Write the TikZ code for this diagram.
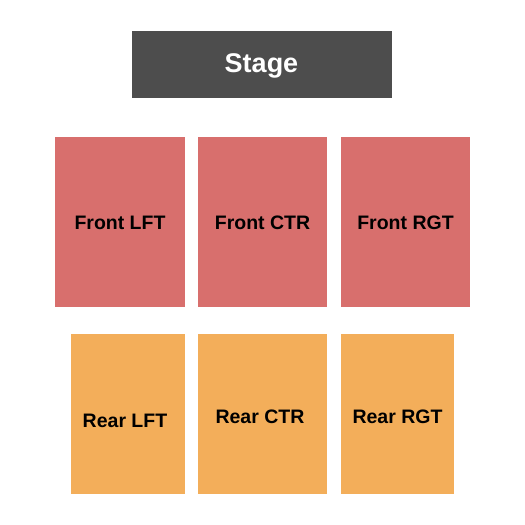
\documentclass[tikz,border=0pt]{standalone}
\usepackage{fontspec}
\setmainfont{Liberation Sans}
\definecolor{stagegray}{RGB}{77,77,77}
\definecolor{frontred}{RGB}{216,111,109}
\definecolor{rearorange}{RGB}{243,174,90}
\begin{document}
\begin{tikzpicture}[x=1pt,y=-1pt,
  sect/.style={font=\fontsize{19.5}{22}\selectfont\bfseries, text=black, inner sep=0pt}]
\useasboundingbox[fill=white] (0,0) rectangle (525,525);
% stage
\fill[stagegray] (132,31) rectangle (392,98);
\node[font=\fontsize{27}{30}\selectfont\bfseries, text=white, inner sep=0pt] (stage) at (261.5,66) {Stage};
% front
\fill[frontred] (55,137) rectangle (185,307);
\fill[frontred] (198,137) rectangle (327,307);
\fill[frontred] (341,137) rectangle (470,307);
\node[sect] (flft) at (120,223) {Front LFT};
\node[sect] (fctr) at (262.5,223) {Front CTR};
\node[sect] (frgt) at (405.5,223) {Front RGT};
% rear
\fill[rearorange] (71,334) rectangle (185,494);
\fill[rearorange] (198,334) rectangle (327,494);
\fill[rearorange] (341,334) rectangle (454,494);
\node[sect] (rlft) at (125,420.5) {Rear LFT};
\node[sect] (rctr) at (260,416.5) {Rear CTR};
\node[sect] (rrgt) at (397.5,416.5) {Rear RGT};
\end{tikzpicture}
\end{document}
